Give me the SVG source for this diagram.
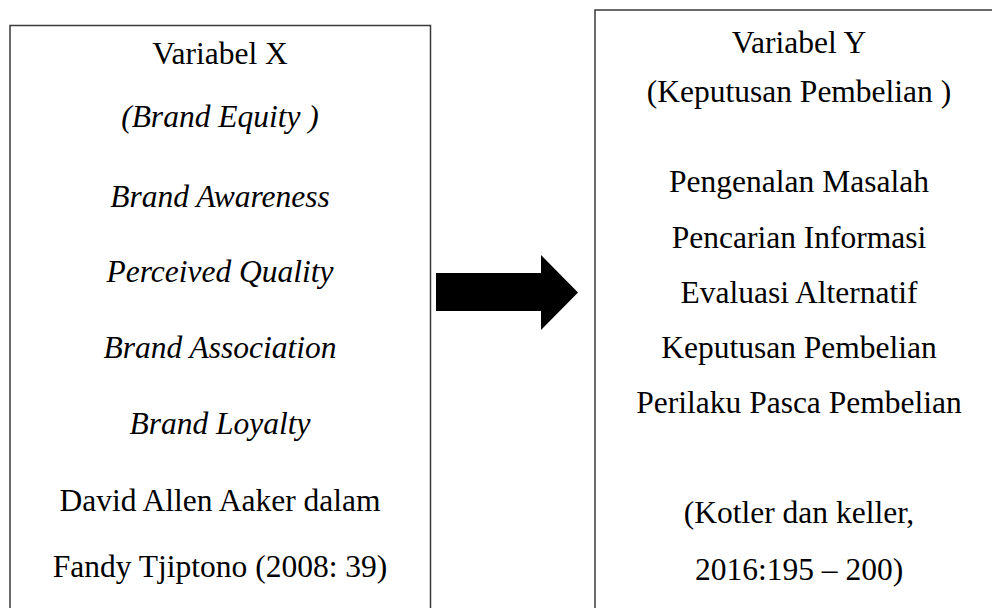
<svg xmlns="http://www.w3.org/2000/svg" width="992" height="608" viewBox="0 0 992 608">
<style>
.box{fill:#fff;stroke:#3a3a3a;stroke-width:1.5}
text{font-family:"Liberation Serif","Times New Roman",serif;font-size:31.5px;fill:#000;text-anchor:middle}
.i{font-style:italic}
</style>
<rect width="992" height="608" fill="#fff"/>
<g id="variabel-x">
<rect class="box" x="10" y="25.5" width="420.5" height="600"/>
<text x="220" y="64">Variabel X</text>
<text class="i" x="220" y="127">(Brand Equity )</text>
<text class="i" x="220" y="207">Brand Awareness</text>
<text class="i" x="220" y="282">Perceived Quality</text>
<text class="i" x="220" y="358">Brand Association</text>
<text class="i" x="220" y="434">Brand Loyalty</text>
<text x="220" y="511">David Allen Aaker dalam</text>
<text x="220" y="577">Fandy Tjiptono (2008: 39)</text>
</g>
<g id="variabel-y">
<rect class="box" x="595" y="10" width="410" height="620"/>
<text x="799" y="53">Variabel Y</text>
<text x="799" y="102">(Keputusan Pembelian )</text>
<text x="799" y="192">Pengenalan Masalah</text>
<text x="799" y="248">Pencarian Informasi</text>
<text x="799" y="303">Evaluasi Alternatif</text>
<text x="799" y="358">Keputusan Pembelian</text>
<text x="799" y="413">Perilaku Pasca Pembelian</text>
<text x="799" y="523">(Kotler dan keller,</text>
<text x="799" y="580">2016:195 – 200)</text>
</g>
<g id="connectors">
<polygon points="436,273 541,273 541,255 578,292.5 541,330 541,311 436,311" fill="#000"/>
</g>
</svg>
